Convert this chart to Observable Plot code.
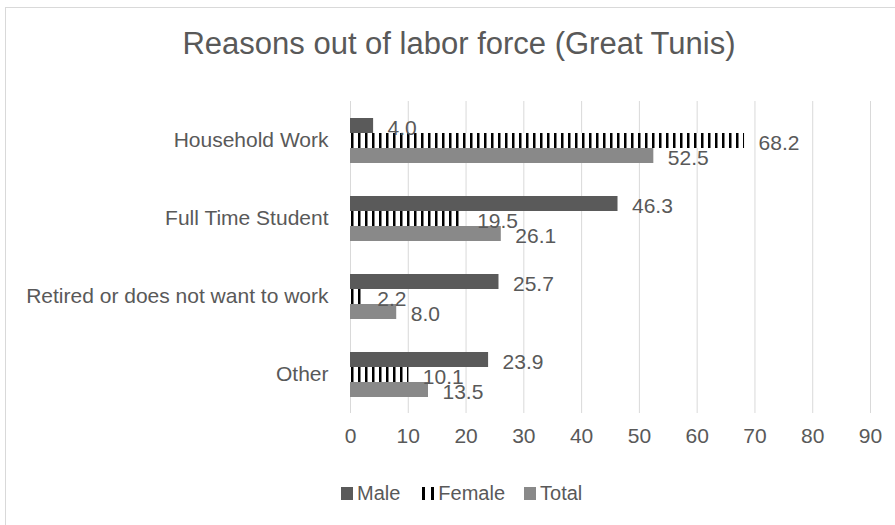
<!DOCTYPE html>
<html>
<head>
<meta charset="utf-8">
<script src="https://cdn.jsdelivr.net/npm/d3@7"></script>
<script src="https://cdn.jsdelivr.net/npm/@observablehq/plot@0.6"></script>
<style>
  html, body { margin: 0; padding: 0; background: #fff; overflow: hidden; }
  #chart { position: relative; width: 895px; height: 525px; font-family: "Liberation Sans", Arial, sans-serif; color: #595959; }
  #frame { position: absolute; left: 5px; top: 7px; width: 1000px; height: 1000px; border: 1px solid #d9d9d9; box-sizing: border-box; }
  #title { position: absolute; left: 459px; top: 28px; transform: translateX(-50%); font-size: 31px; line-height: 31px; white-space: nowrap; }
  #plot { position: absolute; left: 0; top: 0; }
  #legend { position: absolute; left: 341px; top: 483px; display: flex; align-items: center; font-size: 20px; line-height: 20px; white-space: nowrap; }
  #legend .item { display: flex; align-items: center; }
  #legend svg { display: block; }
</style>
</head>
<body>
<div id="chart">
  <div id="frame"></div>
  <div id="title">Reasons out of labor force (Great Tunis)</div>
  <div id="plot"></div>
  <div id="legend"></div>
</div>
<script>
// Reasons for being out of the labor force, Great Tunis (%)
const categories = ["Household Work", "Full Time Student", "Retired or does not want to work", "Other"];
const series = ["Male", "Female", "Total"];
const maleValues = [4.0, 46.3, 25.7, 23.9];
const femaleValues = [68.2, 19.5, 2.2, 10.1];
const totalValues = [52.5, 26.1, 8.0, 13.5];
const xTicks = [0, 10, 20, 30, 40, 50, 60, 70, 80, 90];

const maleColor = "#5a5a5a";
const totalColor = "#898989";
const femaleFill = "url(#femaleStripes)";

const valuesBySeries = {Male: maleValues, Female: femaleValues, Total: totalValues};
const rows = categories.flatMap((category, i) =>
  series.map(s => ({category, series: s, value: valuesBySeries[s][i]}))
);

const fills = {Male: maleColor, Female: femaleFill, Total: totalColor};

const chart = Plot.plot({
  width: 895,
  height: 525,
  marginLeft: 350,
  marginRight: 25,
  marginTop: 100,
  marginBottom: 111,
  style: {
    fontFamily: '"Liberation Sans", Arial, sans-serif',
    fontSize: "21px",
    color: "#595959",
    background: "transparent",
    overflow: "visible"
  },
  x: {domain: [0, 90], ticks: xTicks, tickSize: 0, tickPadding: 15, label: null},
  y: {domain: series, axis: null, paddingInner: 0, paddingOuter: 0.95},
  fy: {domain: categories, padding: 0, axis: "left", label: null, tickSize: 0, tickPadding: 22},
  marks: [
    Plot.gridX(xTicks, {stroke: "#d9d9d9", strokeOpacity: 1, strokeWidth: 1}),
    ...series.map(s =>
      Plot.barX(rows, {
        filter: d => d.series === s,
        x: "value",
        y: "series",
        fy: "category",
        fill: fills[s]
      })
    ),
    Plot.text(rows, {
      x: "value",
      y: "series",
      fy: "category",
      text: d => d.value.toFixed(1),
      textAnchor: "start",
      dx: 14,
      dy: 2,
      fontSize: 21,
      fill: "#595959"
    })
  ]
});

// vertical-stripe fill used by the Female bars
chart.insertAdjacentHTML("afterbegin",
  '<defs><pattern id="femaleStripes" patternUnits="userSpaceOnUse" width="7" height="10">' +
  '<rect width="7" height="10" fill="#ffffff"></rect>' +
  '<rect x="1" width="2.5" height="10" fill="#000000"></rect>' +
  '</pattern></defs>');

document.getElementById("plot").appendChild(chart);

// legend
const legend = d3.select("#legend");
series.forEach((s, i) => {
  const item = legend.append("div").attr("class", "item")
    .style("margin-left", i === 0 ? "0px" : (s === "Female" ? "21px" : "19px"));
  const w = s === "Female" ? 14 : 12;
  const sw = item.append("svg").attr("width", w).attr("height", 13).style("margin-right", s === "Female" ? "3px" : "4px");
  if (s === "Female") {
    sw.append("rect").attr("x", 1).attr("width", 3).attr("height", 13).attr("fill", "#000");
    sw.append("rect").attr("x", 10).attr("width", 3).attr("height", 13).attr("fill", "#000");
  } else {
    sw.append("rect").attr("width", w).attr("height", 13).attr("fill", fills[s]);
  }
  item.append("span").text(s);
});
</script>
</body>
</html>
